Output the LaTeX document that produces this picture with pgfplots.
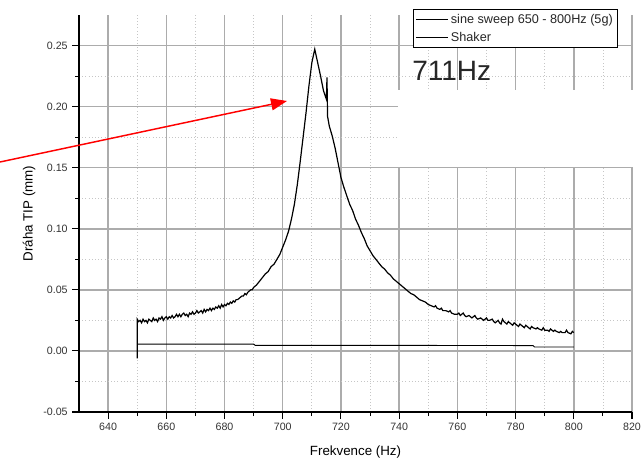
\documentclass[border=0pt]{standalone}
\usepackage{pgfplots}
\pgfplotsset{compat=1.18}
\usepackage{pgfplotstable}
\usepackage{fontspec}
\setmainfont{Liberation Sans}
\usetikzlibrary{arrows.meta}

\pgfplotstableread{
x y
650 -0.006
650 0.026
650.5 0.024
651 0.025
651.5 0.023
652 0.026
652.5 0.024
653 0.025
653.5 0.023
654 0.026
654.5 0.025
655 0.024
655.5 0.027
656 0.025
656.5 0.026
657 0.024
657.5 0.027
658 0.026
658.5 0.028
659 0.025
659.5 0.027
660 0.028
660.5 0.026
661 0.028
661.5 0.027
662 0.029
662.5 0.027
663 0.028
663.5 0.030
664 0.028
664.5 0.030
665 0.028
665.5 0.030
666 0.031
666.5 0.029
667 0.030
667.5 0.028
668 0.031
668.5 0.030
669 0.032
669.5 0.030
670 0.031
670.5 0.033
671 0.031
671.5 0.032
672 0.033
672.5 0.031
673 0.034
673.5 0.032
674 0.034
674.5 0.033
675 0.035
675.5 0.033
676 0.035
676.5 0.034
677 0.036
677.5 0.035
678 0.037
678.5 0.035
679 0.038
679.5 0.036
680 0.038
680.5 0.037
681 0.039
681.5 0.038
682 0.040
682.5 0.039
683 0.041
683.5 0.040
684 0.042
684.5 0.042
685 0.043
685.5 0.044
686 0.045
686.5 0.045
687 0.047
687.5 0.046
688 0.048
688.5 0.049
689 0.050
689.5 0.050
690 0.052
691 0.054
692 0.057
693 0.060
694 0.063
695 0.065
696 0.069
697 0.071
698 0.075
699 0.079
700 0.085
701 0.091
702 0.098
703 0.108
704 0.120
705 0.136
706 0.155
707 0.175
708 0.195
709 0.217
710 0.236
711 0.247
712 0.236
713 0.225
714 0.213
715 0.206
715.2 0.224
715.4 0.192
716 0.184
717 0.176
718 0.166
719 0.154
720 0.142
721 0.134
722 0.127
723 0.120
724 0.115
725 0.108
726 0.103
727 0.097
728 0.092
729 0.086
730 0.082
731 0.078
732 0.075
733 0.072
734 0.069
735 0.067
736 0.064
737 0.062
738 0.059
739 0.057
740 0.055
741 0.053
742 0.051
743 0.049
744 0.047
745 0.046
746 0.044
747 0.042
748 0.041
749 0.040
750 0.038
751 0.037
752 0.036
752.5 0.037
753 0.035
754 0.034
754.5 0.035
755 0.033
756 0.033
757 0.032
757.5 0.033
758 0.031
759 0.030
760 0.030
760.5 0.031
761 0.029
762 0.031
762.5 0.029
763 0.028
764 0.029
764.5 0.028
765 0.027
766 0.029
766.5 0.027
767 0.026
768 0.027
768.5 0.026
769 0.025
770 0.027
770.5 0.025
771 0.025
772 0.026
772.5 0.024
773 0.023
774 0.025
774.5 0.023
775 0.022
775.5 0.026
776 0.024
777 0.022
777.5 0.024
778 0.023
779 0.021
779.5 0.023
780 0.022
781 0.020
781.5 0.022
782 0.021
783 0.019
783.5 0.021
784 0.020
785 0.018
785.5 0.020
786 0.019
787 0.018
787.5 0.019
788 0.018
789 0.017
789.5 0.019
790 0.017
791 0.017
791.5 0.016
792 0.018
793 0.016
793.5 0.017
794 0.016
795 0.015
795.5 0.016
796 0.015
797 0.015
797.5 0.017
798 0.015
799 0.014
799.5 0.016
800 0.015
}\sweep

\pgfplotstableread{
x y
650 0.0056
690 0.0056
690.5 0.0046
786 0.0044
786.5 0.0032
800 0.0032
}\shaker

\begin{document}
\begin{tikzpicture}
\useasboundingbox (0pt,0pt) rectangle (480.75pt,348pt);
\begin{axis}[
  at={(59.25pt,39pt)}, anchor=south west,
  scale only axis, width=414.75pt, height=297.75pt,
  xmin=630, xmax=820, ymin=-0.05, ymax=0.275,
  axis x line=bottom, axis y line=left,
  axis line style={-, line width=0.9pt, black},
  xtick={640,660,...,820},
  ytick={-0.05,0,0.05,0.1,0.15,0.2,0.25},
  minor x tick num=1, minor y tick num=1,
  tick align=outside,
  major tick length=5pt, minor tick length=3pt,
  tick style={black, line width=0.8pt},
  grid=both,
  major grid style={gray!65, line width=1.1pt},
  minor grid style={gray!45, dotted, line width=0.6pt},
  /pgf/number format/assume math mode=true,
  yticklabel style={/pgf/number format/.cd, fixed, fixed zerofill, precision=2},
  xticklabel style={/pgf/number format/.cd, 1000 sep={}},
  ticklabel style={font=\fontsize{8}{9}\selectfont, text=black!80},
  xlabel={Frekvence (Hz)}, ylabel={Dráha TIP (mm)},
  label style={font=\fontsize{9.7}{11}\selectfont, text=black!80},
  every axis x label/.style={at={(axis description cs:0.5,-0.1)}, anchor=center},
  every axis y label/.style={at={(axis description cs:-0.0904,0.5)}, anchor=center, rotate=90},
  legend style={at={(0.604,1.015)}, anchor=north west, draw=black, line width=0.6pt, fill=white,
    font=\fontsize{9.5}{11}\selectfont, text=black!85, inner sep=1.5pt, row sep=1pt,
    cells={anchor=west}},
  legend image post style={line width=0.6pt},
  legend image code/.code={\draw[#1] (0pt,0pt) -- (24pt,0pt);},
]
\addplot[black, line width=0.9pt] table {\sweep};
\addlegendentry{sine sweep 650 - 800Hz (5g)}
\addplot[black, line width=0.7pt] table {\shaker};
\addlegendentry{Shaker}
\end{axis}
\fill[white] (298.5pt,222.75pt) rectangle (481pt,280.5pt);
\node[anchor=base west, inner sep=0pt, font=\fontsize{21}{24}\selectfont, text=black!85] at (309pt,287.25pt) {711Hz};
\draw[red, line width=1.1pt, -{Triangle[length=12pt,width=9pt]}] (0pt,226.5pt) -- (215.25pt,272.25pt);
\end{tikzpicture}
\end{document}
